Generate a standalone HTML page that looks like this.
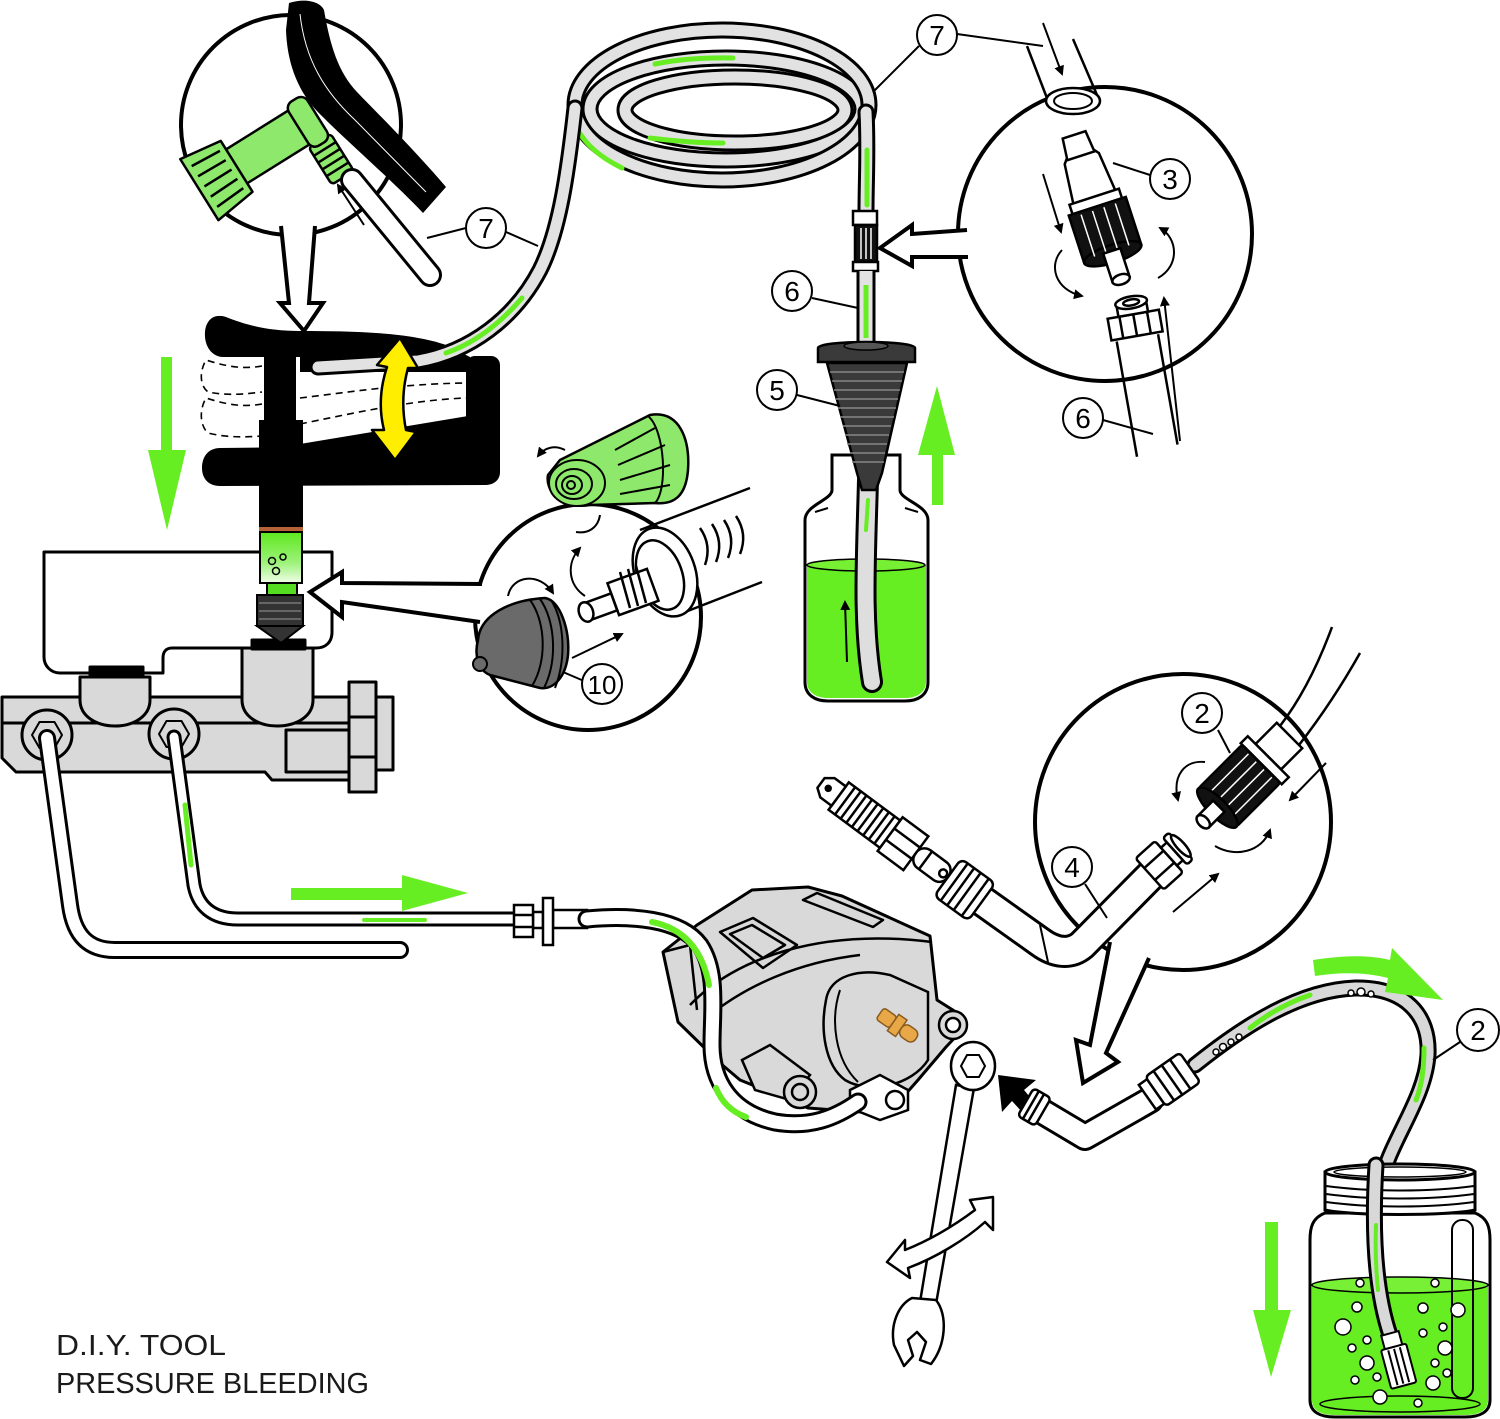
<!DOCTYPE html>
<html><head><meta charset="utf-8"><style>
html,body{margin:0;padding:0;background:#fff;width:1500px;height:1419px;overflow:hidden}
svg{display:block}
</style></head><body>
<svg width="1500" height="1419" viewBox="0 0 1500 1419" xmlns="http://www.w3.org/2000/svg" font-family="Liberation Sans, sans-serif">
<defs>
<linearGradient id="gs" x1="0" y1="0" x2="0" y2="1"><stop offset="0" stop-color="#5fe81e"/><stop offset="0.6" stop-color="#9df27a"/><stop offset="1" stop-color="#f0fde8"/></linearGradient>
<marker id="ah" viewBox="0 0 10 10" refX="8" refY="5" markerWidth="5" markerHeight="5" orient="auto"><path d="M0,0 L10,5 L0,10 Z" fill="#000"/></marker>
</defs>
<rect width="1500" height="1419" fill="#fff"/>

<!-- ===== COIL HOSE ===== -->
<g fill="none" stroke-linecap="round">
<ellipse cx="735" cy="110" rx="110" ry="33" stroke="#000" stroke-width="17"/>
<ellipse cx="735" cy="110" rx="110" ry="33" stroke="#e2e2e2" stroke-width="11"/>
<ellipse cx="726" cy="109" rx="136" ry="51" stroke="#000" stroke-width="17"/>
<ellipse cx="726" cy="109" rx="136" ry="51" stroke="#e2e2e2" stroke-width="11"/>
<ellipse cx="722" cy="105" rx="147" ry="75" stroke="#000" stroke-width="17"/>
<ellipse cx="722" cy="105" rx="147" ry="75" stroke="#e2e2e2" stroke-width="11"/>
<path d="M866,112 C868,150 866,180 866,212" stroke="#000" stroke-width="17"/>
<path d="M866,112 C868,150 866,180 866,212" stroke="#e2e2e2" stroke-width="11"/>
<path d="M655,64 Q690,57 733,58" stroke="#66ee22" stroke-width="5"/>
<path d="M650,138 Q690,143 723,143" stroke="#66ee22" stroke-width="5"/>
<path d="M574,122 Q585,150 622,168" stroke="#66ee22" stroke-width="5"/>
<path d="M867,150 L867,205" stroke="#66ee22" stroke-width="5"/>
</g>

<!-- ===== HANDLE ===== -->
<path d="M205,332 C206,320 214,313 226,317 C246,325 268,331 300,331 C350,331 410,332 446,345 L470,357 L470,372 L300,372 L300,357 L222,357 C211,356 204,345 205,332 Z" fill="#000"/>
<rect x="466" y="356" width="34" height="112" rx="9" fill="#000"/>
<path d="M300,444 L468,416 L500,416 L500,472 C500,480 494,485 485,485 L220,486 C209,486 202,479 202,468 C202,456 209,448 220,448 L300,447 Z" fill="#000"/>
<rect x="264" y="350" width="32" height="110" fill="#000"/>
<rect x="259" y="420" width="44" height="110" fill="#000"/>
<g fill="none" stroke="#000" stroke-width="1.6" stroke-dasharray="7,5">
<path d="M262,366 C240,370 222,365 206,360 C199,372 200,386 208,392 C228,396 246,394 262,392"/>
<path d="M262,404 C240,408 222,403 206,398 C199,410 200,426 208,433 C228,438 246,437 262,436"/>
<path d="M300,398 C350,392 400,384 466,383"/>
<path d="M300,424 C350,414 410,400 466,398"/>
</g>
<!-- hose into handle -->
<g fill="none" stroke-linecap="round">
<path d="M318,367 L418,361 C470,352 515,318 540,270 C560,230 568,170 575,108" stroke="#000" stroke-width="17"/>
<path d="M318,367 L418,361 C470,352 515,318 540,270 C560,230 568,170 575,108" stroke="#e2e2e2" stroke-width="11"/>
<path d="M522,298 C498,326 472,344 446,353" stroke="#66ee22" stroke-width="5"/>
</g>
<!-- yellow arrow -->
<path d="M400,338 L418,368 L408,368 C402,390 402,410 406,430 L416,432 L395,460 L372,430 L384,430 C379,410 380,388 387,367 L377,365 Z" fill="#ffee00" stroke="#000" stroke-width="2.5" stroke-linejoin="round"/>

<!-- ===== TOP-LEFT DETAIL CIRCLE ===== -->
<circle cx="291" cy="125" r="110" fill="#fff" stroke="#000" stroke-width="4"/>
<path d="M289,3 C304,-2 320,1 324,10 C330,45 338,72 357,92 C378,114 410,145 446,187 L423,213 C392,180 345,140 316,110 C296,88 287,60 286,30 Z" fill="#000"/>
<path d="M300,14 C305,60 325,92 355,120 L426,192" fill="none" stroke="#fff" stroke-width="1"/>
<g transform="translate(218,178) rotate(-32)" stroke="#000" stroke-width="2.5" fill="#8ee86c" stroke-linejoin="round">
<rect x="20" y="-20" width="78" height="40"/>
<rect x="93" y="22" width="26" height="44" rx="4"/>
<line x1="93" y1="32" x2="119" y2="32"/><line x1="93" y1="40" x2="119" y2="40"/><line x1="93" y1="48" x2="119" y2="48"/><line x1="93" y1="56" x2="119" y2="56"/>
<rect x="95" y="-26" width="22" height="52" rx="8"/>
<path d="M-22,-36 L22,-30 L22,30 L-22,36 Z"/>
<line x1="-16" y1="-24" x2="16" y2="-22"/><line x1="-16" y1="-12" x2="16" y2="-11"/><line x1="-16" y1="0" x2="16" y2="0"/><line x1="-16" y1="12" x2="16" y2="11"/><line x1="-16" y1="24" x2="16" y2="22"/>
</g>
<g fill="none" stroke-linecap="round">
<path d="M352,180 L430,275" stroke="#000" stroke-width="24"/>
<path d="M352,180 L430,275" stroke="#fff" stroke-width="18"/>
</g>
<line x1="364" y1="225" x2="338" y2="185" stroke="#000" stroke-width="2" marker-end="url(#ah)"/>
<path d="M281,226 L289,303 L280,303 L304,331 L323,303 L309,303 L315,226" fill="#fff" stroke="#000" stroke-width="4" stroke-linejoin="miter"/>
<!-- label 7 left -->
<line x1="427" y1="238" x2="466" y2="228" stroke="#000" stroke-width="2"/>
<line x1="506" y1="232" x2="538" y2="246" stroke="#000" stroke-width="2"/>
<circle cx="486" cy="228" r="20" fill="#fff" stroke="#000" stroke-width="2"/>
<text x="486" y="238" font-size="28" text-anchor="middle" fill="#000">7</text>

<!-- green arrow down left -->
<path d="M161,357 L172,357 L172,450 L186,450 L167,530 L148,450 L161,450 Z" fill="#66ee22"/>

<!-- ===== MASTER CYLINDER ===== -->
<g stroke="#000" stroke-width="3" stroke-linejoin="round">
<path d="M2,697 L393,697 L393,770 L376,770 L376,792 L349,792 L349,780 L272,780 L265,772 L16,772 L2,758 Z" fill="#d9d9d9"/>
<rect x="349" y="682" width="27" height="110" fill="#d9d9d9"/>
<line x1="349" y1="717" x2="376" y2="717"/><line x1="349" y1="757" x2="376" y2="757"/>
<line x1="2" y1="723" x2="349" y2="723"/>
<rect x="286" y="730" width="63" height="42" fill="none"/>
<path d="M44,552 L332,552 L332,632 C332,642 326,648 316,648 L172,648 C166,648 163,652 163,658 L163,673 L60,673 C51,673 44,666 44,657 Z" fill="#fff"/>
<path d="M80,677 L150,677 L150,700 C150,716 134,726 115,726 C96,726 80,716 80,700 Z" fill="#d9d9d9"/>
<path d="M242,648 L313,648 L313,700 C313,716 297,726 277,726 C258,726 242,716 242,700 Z" fill="#d9d9d9"/>
<rect x="90" y="667" width="53" height="10" fill="#000"/>
<rect x="252" y="640" width="53" height="9" fill="#000"/>
<circle cx="47" cy="735" r="25" fill="#d9d9d9"/>
<polygon points="62,735 54.5,748 39.5,748 32,735 39.5,722 54.5,722" fill="#d9d9d9" stroke-width="2"/>
<circle cx="174" cy="734" r="25" fill="#d9d9d9"/>
<polygon points="189,734 181.5,747 166.5,747 159,734 166.5,721 181.5,721" fill="#d9d9d9" stroke-width="2"/>
</g>
<g fill="none" stroke-linecap="round" stroke-linejoin="round">
<path d="M47,738 L70,905 C74,935 88,950 115,950 L400,950" stroke="#000" stroke-width="18"/>
<path d="M47,738 L70,905 C74,935 88,950 115,950 L400,950" stroke="#fff" stroke-width="12"/>
<path d="M174,737 L194,885 C198,906 212,919 238,919 L516,919" stroke="#000" stroke-width="15"/>
<path d="M174,737 L194,885 C198,906 212,919 238,919 L516,919" stroke="#fff" stroke-width="9"/>
<path d="M185,805 L191,865" stroke="#66ee22" stroke-width="5"/>
<path d="M364,920 L425,920" stroke="#66ee22" stroke-width="4"/>
</g>
<!-- stem below handle -->
<rect x="259" y="480" width="44" height="50" fill="#000"/>
<rect x="259" y="527" width="44" height="5" fill="#b8623a"/>
<rect x="260" y="532" width="42" height="51" fill="url(#gs)" stroke="#000" stroke-width="2"/>
<g fill="none" stroke="#000" stroke-width="1.5"><circle cx="272" cy="561" r="3.5"/><circle cx="283" cy="557" r="3"/><circle cx="276" cy="571" r="3.5"/></g>
<rect x="267" y="583" width="30" height="12" fill="#55dd22" stroke="#000" stroke-width="2"/>
<rect x="257" y="595" width="46" height="31" fill="#333" stroke="#000" stroke-width="2"/>
<g stroke="#666" stroke-width="2"><line x1="259" y1="603" x2="301" y2="603"/><line x1="259" y1="611" x2="301" y2="611"/><line x1="259" y1="619" x2="301" y2="619"/></g>
<path d="M257,626 L303,626 L281,643 Z" fill="#333" stroke="#000" stroke-width="2"/>

<!-- green right arrow -->
<path d="M291,888 L402,888 L402,875 L468,893 L402,911 L402,900 L291,900 Z" fill="#66ee22"/>

<!-- pipe fitting -->
<g stroke="#000" stroke-width="2.5" fill="#fff">
<rect x="553" y="910" width="34" height="18"/>
<rect x="533" y="912" width="10" height="16"/>
<rect x="514" y="905" width="19" height="32"/>
<line x1="514" y1="915" x2="533" y2="915"/><line x1="514" y1="927" x2="533" y2="927"/>
<rect x="543" y="898" width="10" height="47"/>
</g>

<!-- ===== CIRCLE 10 ===== -->
<circle cx="588" cy="617" r="113" fill="#fff" stroke="#000" stroke-width="4"/>
<path d="M482,584 L342,583 L342,572 L310,592 L342,617 L342,602 L480,622" fill="#fff" stroke="#000" stroke-width="4" stroke-linejoin="miter"/>
<g fill="none" stroke="#000" stroke-width="2.5">
<path d="M640,530 L750,488"/>
<path d="M680,614 L762,582"/>
<path d="M700,528 Q712,545 705,565"/><path d="M712,524 Q724,542 716,562"/><path d="M724,520 Q736,538 728,558"/><path d="M736,516 Q748,534 740,554"/>
</g>
<g stroke="#000" stroke-width="2.5" fill="#fff">
<ellipse cx="665" cy="572" rx="30" ry="46" transform="rotate(-20 665 572)"/>
<ellipse cx="660" cy="575" rx="22" ry="36" transform="rotate(-20 660 575)"/>
<rect x="612" y="575" width="42" height="34" transform="rotate(-20 633 592)"/>
<line x1="620" y1="572" x2="630" y2="608"/><line x1="628" y1="569" x2="638" y2="606"/><line x1="636" y1="566" x2="646" y2="603"/>
<rect x="585" y="598" width="30" height="18" transform="rotate(-20 600 607)"/>
<ellipse cx="586" cy="612" rx="7" ry="10" transform="rotate(-20 586 612)"/>
</g>
<!-- gray cap 10 -->
<path d="M478,640 C480,615 510,600 545,598 C560,600 570,630 568,655 C566,675 555,690 540,688 L490,675 C478,670 474,655 478,640 Z" fill="#6a6a6a" stroke="#000" stroke-width="2.5"/>
<g fill="none" stroke="#000" stroke-width="2"><path d="M530,600 C545,620 548,660 532,686"/><path d="M540,599 C555,620 558,660 544,688"/><path d="M551,600 C565,622 566,660 555,688"/></g>
<circle cx="480" cy="664" r="7" fill="#6a6a6a" stroke="#000" stroke-width="2"/>
<!-- green cap -->
<path d="M560,460 L650,415 C680,410 690,440 688,470 C686,495 675,505 655,503 L590,505 C560,510 545,490 548,475 Z" fill="#8ee86c" stroke="#000" stroke-width="2.5"/>
<g fill="none" stroke="#000" stroke-width="2">
<line x1="615" y1="450" x2="655" y2="428"/><line x1="618" y1="465" x2="665" y2="445"/><line x1="620" y1="480" x2="670" y2="465"/><line x1="620" y1="494" x2="670" y2="485"/>
<path d="M648,416 C665,430 668,490 655,503"/>
<ellipse cx="577" cy="483" rx="28" ry="23" fill="#8ee86c"/>
<ellipse cx="574" cy="484" rx="18" ry="15"/><ellipse cx="572" cy="485" rx="10" ry="9"/><ellipse cx="571" cy="485" rx="4" ry="4"/>
</g>
<g fill="none" stroke="#000" stroke-width="2">
<path d="M508,596 C512,575 540,572 553,593" marker-end="url(#ah)"/>
<path d="M585,596 C568,585 566,563 580,548" marker-end="url(#ah)"/>
<path d="M565,450 C555,445 545,447 538,456" marker-end="url(#ah)"/>
<path d="M600,515 C598,528 588,534 576,532"/>
<line x1="572" y1="658" x2="622" y2="634" marker-end="url(#ah)"/>
<line x1="563" y1="672" x2="584" y2="681"/>
</g>
<circle cx="602" cy="684" r="20" fill="#fff" stroke="#000" stroke-width="2"/>
<text x="602" y="694" font-size="26" text-anchor="middle" fill="#000">10</text>

<!-- ===== TOP CONNECTOR & LABEL 7 ===== -->
<g stroke="#000" stroke-width="2.5">
<rect x="853" y="211" width="24" height="14" fill="#fff"/>
<rect x="855" y="225" width="22" height="37" fill="#111"/>
<line x1="861" y1="228" x2="861" y2="259" stroke="#fff" stroke-width="1.5"/><line x1="866" y1="228" x2="866" y2="259" stroke="#fff" stroke-width="1.5"/><line x1="871" y1="228" x2="871" y2="259" stroke="#fff" stroke-width="1.5"/>
<rect x="853" y="262" width="25" height="9" fill="#fff"/>
</g>
<g fill="none" stroke-linecap="butt">
<path d="M866,271 L866,345" stroke="#000" stroke-width="19"/>
<path d="M866,271 L866,345" stroke="#e2e2e2" stroke-width="13"/>
<path d="M866,285 L866,338" stroke="#66ee22" stroke-width="5"/>
</g>
<line x1="873" y1="92" x2="919" y2="46" stroke="#000" stroke-width="2"/>
<line x1="957" y1="34" x2="1043" y2="46" stroke="#000" stroke-width="2"/>
<circle cx="937" cy="35" r="20" fill="#fff" stroke="#000" stroke-width="2"/>
<text x="937" y="45" font-size="28" text-anchor="middle" fill="#000">7</text>

<!-- ===== TOP RIGHT CIRCLE ===== -->
<circle cx="1105" cy="234" r="147" fill="#fff" stroke="#000" stroke-width="4"/>
<path d="M967,230 L912,234 L912,225 L880,248 L912,266 L912,257 L968,257" fill="#fff" stroke="#000" stroke-width="4" stroke-linejoin="miter"/>
<g fill="none" stroke="#000" stroke-width="2.5">
<path d="M1027,46 L1050,106"/><path d="M1073,39 L1097,95"/>
</g>
<ellipse cx="1073" cy="101" rx="27" ry="13" fill="#fff" stroke="#000" stroke-width="2.5"/>
<ellipse cx="1073" cy="101" rx="19" ry="8" fill="#fff" stroke="#000" stroke-width="2"/>
<line x1="1043" y1="23" x2="1062" y2="74" stroke="#000" stroke-width="2" marker-end="url(#ah)"/>
<g transform="translate(1105,230) rotate(-18)" stroke="#000" stroke-width="2.5">
<polygon points="-12,-100 12,-100 14,-80 18,-75 22,-35 -22,-35 -18,-75 -14,-80" fill="#fff"/>
<line x1="-15" y1="-78" x2="15" y2="-78"/>
<rect x="-26" y="-35" width="52" height="10" fill="#fff"/>
<rect x="-30" y="-25" width="60" height="50" fill="#111"/>
<ellipse cx="0" cy="25" rx="30" ry="9" fill="#111"/>
<g stroke="#fff" stroke-width="1.5"><line x1="-18" y1="-22" x2="-18" y2="22"/><line x1="-6" y1="-22" x2="-6" y2="24"/><line x1="6" y1="-22" x2="6" y2="24"/><line x1="18" y1="-22" x2="18" y2="22"/></g>
<rect x="-9" y="22" width="18" height="30" fill="#fff"/>
<ellipse cx="0" cy="52" rx="9" ry="5" fill="#fff"/>
</g>
<g transform="translate(1136,330) rotate(-10)" stroke="#000" stroke-width="2.5" fill="#fff">
<path d="M-21,8 L-21,125 M21,8 L21,120" fill="none"/>
<rect x="-26" y="-16" width="52" height="22"/>
<line x1="-14" y1="-16" x2="-14" y2="6"/><line x1="0" y1="-16" x2="0" y2="6"/><line x1="14" y1="-16" x2="14" y2="6"/>
<rect x="-15" y="-28" width="30" height="12"/>
<ellipse cx="0" cy="-28" rx="16" ry="6"/>
<ellipse cx="0" cy="-28" rx="8" ry="3"/>
</g>
<g fill="none" stroke="#000" stroke-width="2">
<line x1="1043" y1="174" x2="1061" y2="232" marker-end="url(#ah)"/>
<path d="M1062,250 C1048,265 1055,290 1082,296" marker-end="url(#ah)"/>
<path d="M1158,278 C1180,266 1178,238 1160,228" marker-end="url(#ah)"/>
<line x1="1180" y1="441" x2="1164" y2="298" marker-end="url(#ah)"/>
<line x1="1113" y1="163" x2="1150" y2="175"/>
<line x1="1103" y1="420" x2="1153" y2="434"/>
</g>
<circle cx="1170" cy="179" r="20" fill="#fff" stroke="#000" stroke-width="2"/>
<text x="1170" y="189" font-size="28" text-anchor="middle" fill="#000">3</text>
<circle cx="1083" cy="418" r="20" fill="#fff" stroke="#000" stroke-width="2"/>
<text x="1083" y="428" font-size="28" text-anchor="middle" fill="#000">6</text>

<!-- ===== BOTTLE & FUNNEL ===== -->
<path d="M832,455 L900,455 L900,490 C900,500 928,505 928,520 L928,682 C928,695 918,701 905,701 L828,701 C815,701 805,695 805,682 L805,520 C805,505 832,500 832,490 Z" fill="#fff" stroke="#000" stroke-width="3"/>
<path d="M807,565 L926,565 L926,682 C926,693 916,698 905,698 L828,698 C817,698 807,693 807,682 Z" fill="#66ee22"/>
<ellipse cx="866" cy="565" rx="59" ry="6" fill="#77f033" stroke="#000" stroke-width="1.5"/>
<line x1="815" y1="512" x2="828" y2="508" stroke="#000" stroke-width="2"/>
<line x1="905" y1="508" x2="918" y2="512" stroke="#000" stroke-width="2"/>
<g fill="none" stroke-linecap="round">
<path d="M868,480 C866,560 862,620 872,682" stroke="#000" stroke-width="22"/>
<path d="M868,480 C866,560 862,620 872,682" stroke="#dedede" stroke-width="16"/>
<path d="M868,500 L866,530" stroke="#66ee22" stroke-width="4"/>
</g>
<line x1="847" y1="662" x2="845" y2="602" stroke="#000" stroke-width="2" marker-end="url(#ah)"/>
<path d="M827,363 L907,363 L882,473 L876,490 L862,490 L857,473 Z" fill="#3a3a3a" stroke="#000" stroke-width="2.5"/>
<g stroke="#888" stroke-width="1.5">
<line x1="830" y1="372" x2="904" y2="372"/><line x1="832" y1="381" x2="902" y2="381"/><line x1="834" y1="390" x2="900" y2="390"/><line x1="836" y1="399" x2="898" y2="399"/><line x1="838" y1="408" x2="896" y2="408"/><line x1="840" y1="417" x2="894" y2="417"/><line x1="843" y1="426" x2="891" y2="426"/><line x1="845" y1="435" x2="889" y2="435"/><line x1="847" y1="444" x2="887" y2="444"/><line x1="850" y1="453" x2="885" y2="453"/><line x1="852" y1="462" x2="884" y2="462"/>
</g>
<path d="M818,348 C818,340 915,340 915,348 L915,362 L818,362 Z" fill="#3a3a3a" stroke="#000" stroke-width="2.5"/>
<ellipse cx="866" cy="346" rx="22" ry="4" fill="#555" stroke="#000" stroke-width="1.5"/>
<!-- labels 6 & 5 -->
<line x1="812" y1="298" x2="858" y2="308" stroke="#000" stroke-width="2"/>
<circle cx="792" cy="291" r="20" fill="#fff" stroke="#000" stroke-width="2"/>
<text x="792" y="301" font-size="28" text-anchor="middle" fill="#000">6</text>
<line x1="797" y1="395" x2="840" y2="406" stroke="#000" stroke-width="2"/>
<circle cx="777" cy="390" r="20" fill="#fff" stroke="#000" stroke-width="2"/>
<text x="777" y="400" font-size="28" text-anchor="middle" fill="#000">5</text>
<!-- green up arrow -->
<path d="M932,505 L943,505 L943,455 L955,455 L937,386 L918,455 L932,455 Z" fill="#66ee22"/>

<!-- ===== CIRCLE 2/4 ===== -->
<circle cx="1183" cy="822" r="148" fill="#fff" stroke="#000" stroke-width="4"/>
<path d="M1110,942 L1090,1045 L1076,1040 L1083,1083 L1118,1062 L1106,1053 L1149,958" fill="#fff" stroke="#000" stroke-width="4" stroke-linejoin="miter"/>
<g fill="none" stroke="#000" stroke-width="2.5">
<path d="M1280,726 C1300,700 1318,665 1332,627"/>
<path d="M1299,745 C1320,718 1342,685 1360,653"/>
</g>
<g transform="translate(1240,785) rotate(-45)" stroke="#000" stroke-width="2.5">
<rect x="40" y="-18" width="30" height="36" fill="#fff"/>
<rect x="30" y="-29" width="10" height="58" fill="#fff"/>
<rect x="-32" y="-27" width="62" height="54" rx="3" fill="#111"/>
<g stroke="#fff" stroke-width="1.5"><line x1="-24" y1="-16" x2="28" y2="-16"/><line x1="-24" y1="-5" x2="28" y2="-5"/><line x1="-24" y1="6" x2="28" y2="6"/><line x1="-24" y1="17" x2="28" y2="17"/></g>
<ellipse cx="-32" cy="0" rx="9" ry="27" fill="#111"/>
<rect x="-52" y="-8" width="22" height="16" fill="#fff"/>
<ellipse cx="-52" cy="0" rx="5" ry="8" fill="#fff"/>
</g>
<g fill="none" stroke="#000" stroke-width="2">
<path d="M1205,762 C1185,760 1172,775 1178,800" marker-end="url(#ah)"/>
<line x1="1326" y1="763" x2="1290" y2="800" marker-end="url(#ah)"/>
<path d="M1215,846 C1235,858 1262,852 1270,830" marker-end="url(#ah)"/>
<line x1="1173" y1="912" x2="1218" y2="874" marker-end="url(#ah)"/>
<line x1="1218" y1="730" x2="1230" y2="753"/>
</g>
<!-- fitting 4 -->
<g fill="none" stroke-linejoin="round">
<path d="M960,885 L1040,942 C1055,953 1070,955 1082,945 L1160,866" stroke="#000" stroke-width="33"/>
<path d="M960,885 L1040,942 C1055,953 1070,955 1082,945 L1160,866" stroke="#fff" stroke-width="27"/>
<path d="M1040,925 L1048,962" stroke="#000" stroke-width="2"/>
</g>
<g transform="translate(972,895) rotate(36)" stroke="#000" stroke-width="2.5" fill="#fff">
<rect x="-30" y="-23" width="42" height="46" rx="6"/>
<line x1="-22" y1="-23" x2="-22" y2="23"/><line x1="-14" y1="-23" x2="-14" y2="23"/><line x1="-6" y1="-23" x2="-6" y2="23"/><line x1="4" y1="-23" x2="4" y2="23"/>
</g>
<g transform="translate(1163,862) rotate(-42)" stroke="#000" stroke-width="2.5" fill="#fff">
<rect x="-18" y="-21" width="26" height="42" rx="3"/>
<line x1="-18" y1="-8" x2="8" y2="-8"/><line x1="-18" y1="8" x2="8" y2="8"/>
<rect x="8" y="-12" width="8" height="24"/>
<rect x="16" y="-18" width="8" height="36" rx="3"/>
<ellipse cx="24" cy="0" rx="4" ry="14"/>
</g>
<line x1="1085" y1="884" x2="1107" y2="918" stroke="#000" stroke-width="2"/>
<circle cx="1072" cy="867" r="20" fill="#fff" stroke="#000" stroke-width="2"/>
<text x="1072" y="877" font-size="28" text-anchor="middle" fill="#000">4</text>
<circle cx="1202" cy="713" r="20" fill="#fff" stroke="#000" stroke-width="2"/>
<text x="1202" y="723" font-size="28" text-anchor="middle" fill="#000">2</text>

<!-- bleeder screw -->
<g transform="translate(821,783) rotate(36.5)" stroke="#000" stroke-width="2.5" fill="#fff">
<rect x="22" y="-17" width="64" height="34"/>
<line x1="30" y1="-17" x2="30" y2="17"/><line x1="37" y1="-17" x2="37" y2="17"/><line x1="44" y1="-17" x2="44" y2="17"/><line x1="51" y1="-17" x2="51" y2="17"/><line x1="58" y1="-17" x2="58" y2="17"/><line x1="65" y1="-17" x2="65" y2="17"/><line x1="72" y1="-17" x2="72" y2="17"/><line x1="79" y1="-17" x2="79" y2="17"/>
<polygon points="0,-6 8,-12 22,-12 22,12 8,12 0,6"/>
<circle cx="9" cy="0" r="2.5" fill="#000"/>
<rect x="86" y="-21" width="32" height="42"/>
<line x1="86" y1="-7" x2="118" y2="-7"/><line x1="86" y1="7" x2="118" y2="7"/>
<rect x="118" y="-11" width="40" height="22" rx="10"/>
<line x1="130" y1="-11" x2="130" y2="11"/>
<circle cx="152" cy="0" r="4"/>
</g>

<!-- ===== CALIPER ===== -->
<path d="M663,952 L697,925 L752,890 L808,887 L842,896 L930,936 L937,1000 L956,1012 L962,1030 L946,1047 L918,1080 L888,1114 L808,1108 L780,1096 L740,1080 L720,1063 L678,1022 Z" fill="#d9d9d9" stroke="#000" stroke-width="3" stroke-linejoin="round"/>
<g fill="none" stroke="#000" stroke-width="2.5" stroke-linejoin="round">
<polygon points="720,932 753,918 797,945 763,968"/>
<polygon points="730,934 752,925 785,945 763,958"/>
<polygon points="803,900 817,893 883,920 873,927"/>
<path d="M690,1005 C735,958 820,928 932,942"/>
<path d="M704,1020 C745,985 800,962 860,955"/>
<path d="M663,952 L690,945 L697,1010"/>
</g>
<path d="M826,1000 C830,975 860,968 890,975 L928,992 L928,1060 C912,1085 870,1095 845,1080 C825,1065 820,1030 826,1000 Z" fill="#d9d9d9" stroke="#000" stroke-width="2.5"/>
<path d="M840,990 C830,1020 835,1060 858,1082" fill="none" stroke="#000" stroke-width="2"/>
<g transform="translate(898,1026) rotate(35)" stroke="#8a5a20" stroke-width="1.5" fill="#e8a848">
<rect x="-22" y="-7" width="16" height="14" rx="3"/>
<rect x="-6" y="-10" width="10" height="20"/>
<rect x="4" y="-7" width="18" height="14" rx="6"/>
</g>
<g stroke="#000" stroke-width="2.5" fill="#d9d9d9">
<circle cx="953" cy="1025" r="14"/><circle cx="953" cy="1025" r="7" fill="#fff"/>
<polygon points="742,1060 770,1045 810,1075 790,1100 755,1090"/>
<circle cx="800" cy="1092" r="16"/><circle cx="800" cy="1092" r="8"/>
<polygon points="850,1090 880,1075 908,1090 908,1110 880,1120 850,1108" fill="#fff"/>
<circle cx="895" cy="1100" r="9" fill="#fff"/>
</g>
<!-- hose into caliper -->
<g fill="none" stroke-linecap="round">
<path d="M587,919 C630,915 680,918 700,945 C718,972 712,1010 712,1045 C712,1080 730,1112 775,1122 C810,1128 835,1118 858,1102" stroke="#000" stroke-width="19"/>
<path d="M587,919 C630,915 680,918 700,945 C718,972 712,1010 712,1045 C712,1080 730,1112 775,1122 C810,1128 835,1118 858,1102" stroke="#fff" stroke-width="13"/>
<path d="M652,922 C682,928 702,948 709,985" stroke="#66ee22" stroke-width="6"/>
<path d="M716,1088 C722,1103 732,1112 746,1117" stroke="#66ee22" stroke-width="6"/>
</g>

<!-- ===== WRENCH ===== -->
<path d="M956,1085 L920,1302 L936,1304 L974,1088 Z" fill="#fff" stroke="#000" stroke-width="2.5"/>
<ellipse cx="973" cy="1066" rx="22" ry="24" fill="#fff" stroke="#000" stroke-width="2.5"/>
<polygon points="985,1066 979,1077 967,1077 961,1066 967,1055 979,1055" fill="#fff" stroke="#000" stroke-width="2"/>
<path d="M912,1298 C898,1305 890,1325 894,1345 L904,1366 L913,1356 L908,1340 L917,1332 L926,1342 L920,1360 L931,1364 C946,1345 948,1315 936,1300 Z" fill="#fff" stroke="#000" stroke-width="2.5" stroke-linejoin="round"/>
<path d="M887,1262 L905,1240 L905,1250 C930,1240 955,1225 975,1210 L970,1200 L993,1197 L993,1230 L985,1222 C965,1240 935,1258 908,1268 L910,1278 Z" fill="#fff" stroke="#000" stroke-width="2.5" stroke-linejoin="round"/>
<polygon points="998,1075 1036,1080 1024,1090 1034,1102 1022,1112 1012,1101 1002,1112" fill="#000"/>

<!-- ===== ELBOW & HOSE 2 ===== -->
<g fill="none" stroke-linecap="round" stroke-linejoin="round">
<path d="M1195,1065 C1245,1025 1300,990 1355,988 C1405,987 1430,1015 1428,1055 C1425,1100 1390,1140 1380,1185 C1372,1230 1375,1290 1390,1335" stroke="#000" stroke-width="17"/>
<path d="M1195,1065 C1245,1025 1300,990 1355,988 C1405,987 1430,1015 1428,1055 C1425,1100 1390,1140 1380,1185 C1372,1230 1375,1290 1390,1335" stroke="#d8d8d8" stroke-width="11"/>
<path d="M1250,1028 C1270,1012 1290,1002 1310,995" stroke="#66ee22" stroke-width="5"/>
<path d="M1424,1048 C1424,1070 1421,1088 1416,1100" stroke="#66ee22" stroke-width="5"/>
<path d="M1376,1225 C1375,1250 1376,1270 1378,1290" stroke="#66ee22" stroke-width="4"/>
<path d="M1043,1112 L1085,1137 L1150,1100" stroke="#000" stroke-width="28"/>
<path d="M1043,1112 L1085,1137 L1150,1100" stroke="#fff" stroke-width="22"/>
</g>
<g fill="#fff" stroke="#000" stroke-width="1.5">
<circle cx="1216" cy="1052" r="3"/><circle cx="1223" cy="1047" r="3.5"/><circle cx="1231" cy="1042" r="3"/><circle cx="1239" cy="1037" r="3"/>
<circle cx="1351" cy="993" r="3"/><circle cx="1361" cy="992" r="4"/><circle cx="1371" cy="994" r="3"/>
</g>
<g transform="translate(1043,1112) rotate(30)" stroke="#000" stroke-width="2.5" fill="#fff">
<rect x="-20" y="-16" width="20" height="32" rx="4"/>
<line x1="-14" y1="-16" x2="-14" y2="16"/><line x1="-8" y1="-16" x2="-8" y2="16"/>
</g>
<g transform="translate(1172,1080) rotate(-35)" stroke="#000" stroke-width="2.5" fill="#fff">
<rect x="-30" y="-15" width="10" height="30"/>
<rect x="-20" y="-18" width="42" height="36" rx="4"/>
<line x1="-10" y1="-18" x2="-10" y2="18"/><line x1="0" y1="-18" x2="0" y2="18"/><line x1="10" y1="-18" x2="10" y2="18"/>
</g>
<!-- green curved arrow -->
<path d="M1313,960 C1345,955 1370,955 1390,960 L1392,948 L1443,1000 L1385,992 L1388,978 C1365,972 1340,972 1315,976 Z" fill="#66ee22"/>
<!-- label 2 -->
<line x1="1433" y1="1060" x2="1460" y2="1042" stroke="#000" stroke-width="2"/>
<circle cx="1478" cy="1030" r="21" fill="#fff" stroke="#000" stroke-width="2"/>
<text x="1478" y="1040" font-size="28" text-anchor="middle" fill="#000">2</text>

<!-- ===== JAR ===== -->
<path d="M1325,1213 C1312,1218 1310,1228 1310,1240 L1310,1400 C1310,1412 1320,1417 1335,1417 L1465,1417 C1480,1417 1490,1412 1490,1400 L1490,1240 C1490,1228 1488,1218 1475,1213 Z" fill="#fff" stroke="#000" stroke-width="3"/>
<path d="M1312,1283 L1488,1283 L1488,1400 C1488,1410 1480,1415 1465,1415 L1335,1415 C1320,1415 1312,1410 1312,1400 Z" fill="#66ee22"/>
<ellipse cx="1400" cy="1285" rx="88" ry="8" fill="#77f035" stroke="#000" stroke-width="1.5"/>
<ellipse cx="1400" cy="1404" rx="80" ry="8" fill="none" stroke="#000" stroke-width="1.5"/>
<rect x="1452" y="1220" width="21" height="178" rx="10" fill="none" stroke="#000" stroke-width="2"/>
<path d="M1325,1172 L1475,1172 L1475,1210 C1450,1216 1350,1216 1325,1210 Z" fill="#fff" stroke="#000" stroke-width="3"/>
<ellipse cx="1400" cy="1172" rx="75" ry="8" fill="#fff" stroke="#000" stroke-width="3"/>
<ellipse cx="1400" cy="1172" rx="66" ry="5" fill="#fff" stroke="#000" stroke-width="1.5"/>
<g fill="none" stroke="#000" stroke-width="2"><path d="M1326,1186 C1370,1192 1430,1192 1474,1186"/><path d="M1326,1194 C1370,1200 1430,1200 1474,1194"/><path d="M1326,1202 C1370,1208 1430,1208 1474,1202"/></g>
<g fill="none" stroke-linecap="round">
<path d="M1376,1165 C1372,1230 1375,1290 1390,1335" stroke="#000" stroke-width="17"/>
<path d="M1376,1165 C1372,1230 1375,1290 1390,1335" stroke="#d8d8d8" stroke-width="11"/>
<path d="M1376,1225 C1375,1250 1376,1270 1378,1290" stroke="#66ee22" stroke-width="4"/>
</g>
<g fill="#fff" stroke="#000" stroke-width="1.5">
<circle cx="1360" cy="1283" r="4"/><circle cx="1435" cy="1283" r="4"/><circle cx="1357" cy="1307" r="5"/><circle cx="1423" cy="1308" r="5"/><circle cx="1458" cy="1310" r="7"/><circle cx="1343" cy="1327" r="8"/><circle cx="1367" cy="1340" r="4"/><circle cx="1423" cy="1333" r="4"/><circle cx="1443" cy="1327" r="4"/><circle cx="1352" cy="1348" r="4"/><circle cx="1445" cy="1348" r="7"/><circle cx="1367" cy="1363" r="7"/><circle cx="1435" cy="1363" r="4"/><circle cx="1377" cy="1377" r="4"/><circle cx="1355" cy="1380" r="4"/><circle cx="1447" cy="1373" r="4"/><circle cx="1433" cy="1383" r="7"/><circle cx="1380" cy="1397" r="7"/><circle cx="1418" cy="1403" r="4"/>
</g>
<g transform="translate(1393,1345) rotate(-15)" stroke="#000" stroke-width="2" fill="#fff">
<rect x="-9" y="-12" width="18" height="14"/>
<rect x="-13" y="2" width="26" height="40" rx="2"/>
<line x1="-6" y1="4" x2="-6" y2="40"/><line x1="0" y1="4" x2="0" y2="40"/><line x1="6" y1="4" x2="6" y2="40"/>
</g>
<!-- green down arrow right -->
<path d="M1265,1222 L1278,1222 L1278,1310 L1291,1310 L1271,1377 L1253,1310 L1265,1310 Z" fill="#66ee22"/>

<!-- ===== TEXT ===== -->
<text x="56" y="1355" font-size="29" fill="#1a1a1a" textLength="170" lengthAdjust="spacingAndGlyphs">D.I.Y. TOOL</text>
<text x="56" y="1393" font-size="29" fill="#1a1a1a" textLength="313" lengthAdjust="spacingAndGlyphs">PRESSURE BLEEDING</text>
</svg>
</body></html>
